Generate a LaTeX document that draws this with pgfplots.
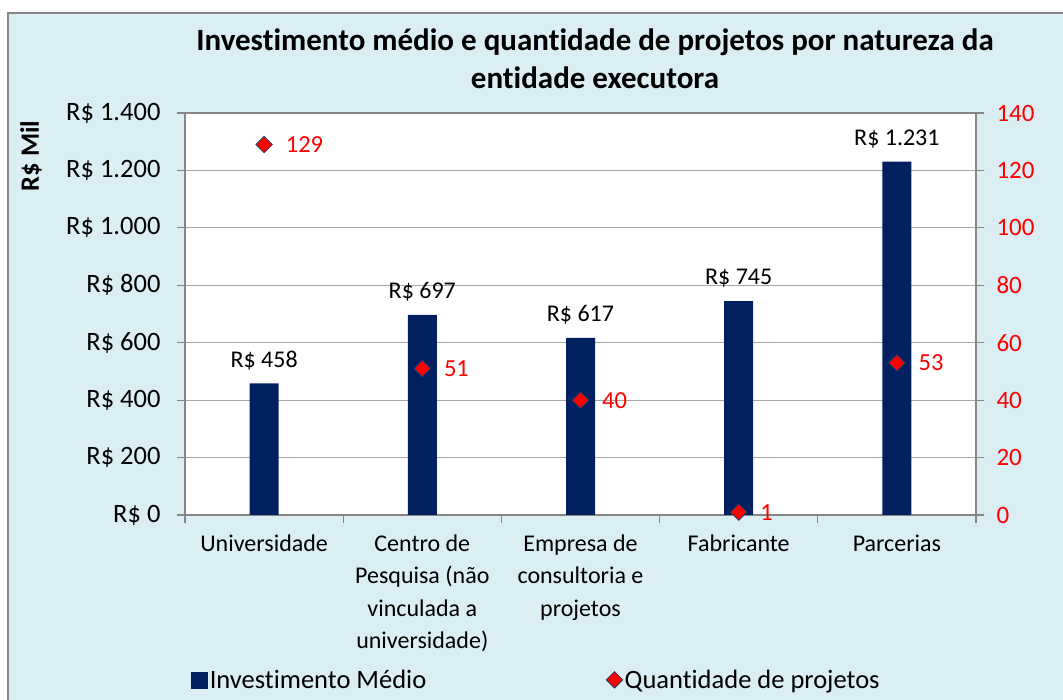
\documentclass[border=0pt]{standalone}
\usepackage{fontspec}
\setmainfont{Carlito}[Ligatures=NoCommon]
\usepackage{pgfplots}
\pgfplotsset{compat=1.18}
\definecolor{bgblue}{HTML}{DBEEF4}
\definecolor{navy}{HTML}{002060}
\definecolor{framegray}{HTML}{868686}
\definecolor{gridgray}{HTML}{A6A6A6}
\begin{document}
\begin{tikzpicture}[x=1pt,y=1pt]
\useasboundingbox (0,0) rectangle (1063,700);
\fill[bgblue] (8,0) rectangle (1063,687);
\draw[framegray, line width=1.2pt] (8,0) -- (8,687) -- (1063,687);
\node[font=\fontsize{31}{38}\selectfont\bfseries, align=center] at (595,641) {Investimento médio e quantidade de projetos por natureza da\\entidade executora};
\node[rotate=90, font=\fontsize{26.5}{30}\selectfont\bfseries] at (31,544) {R\$ Mil};
\begin{axis}[
  at={(185pt,185pt)}, anchor=south west, scale only axis,
  width=791pt, height=402pt,
  xmin=-0.5, xmax=4.5, ymin=0, ymax=1400,
  axis background/.style={fill=white},
  xtick={0,1,2,3,4},
  xticklabels={Universidade,{Centro de\\Pesquisa (não\\vinculada a\\universidade)},{Empresa de\\consultoria e\\projetos},Fabricante,Parcerias},
  minor xtick={-0.5,0.5,1.5,2.5,3.5,4.5},
  major x tick style={draw=none},
  xtick pos=bottom, ytick pos=left,
  tick align=outside,
  major tick length=8pt, minor tick length=8pt,
  tick style={framegray, line width=1.2pt},
  ytick={0,200,...,1400},
  yticklabels={R\$ 0,R\$ 200,R\$ 400,R\$ 600,R\$ 800,R\$ 1.000,R\$ 1.200,R\$ 1.400},
  ymajorgrids, grid style={gridgray, line width=1pt},
  axis line style={framegray, line width=1.2pt},
  yticklabel style={font=\fontsize{26.5}{32.5}\selectfont, xshift=-13pt},
  xticklabel style={font=\fontsize{24}{32.5}\selectfont, align=center, yshift=-8pt},
  /pgf/number format/.cd, 1000 sep={.}, assume math mode=true,
]
\addplot[ybar, bar width=29pt, fill=navy, draw=none,
  nodes near coords={R\$ \pgfmathprintnumber{\pgfplotspointmeta}},
  nodes near coords style={font=\fontsize{24}{29}\selectfont, black, anchor=south, yshift=10pt}]
  coordinates {(0,458) (1,697) (2,617) (3,745) (4,1231)};
\end{axis}
\begin{axis}[
  at={(185pt,185pt)}, anchor=south west, scale only axis,
  width=791pt, height=402pt,
  xmin=-0.5, xmax=4.5, ymin=0, ymax=140,
  hide x axis,
  axis y line*=right,
  ytick={0,20,...,140},
  tick align=outside, major tick length=8pt,
  tick style={framegray, line width=1.2pt},
  axis line style={framegray, line width=1.2pt},
  yticklabel style={font=\fontsize{25}{32}\selectfont, red, xshift=9pt},
  legend columns=2,
  legend style={draw=none, fill=none, font=\fontsize{26.5}{30}\selectfont,
    at={(0.004,-0.41)}, anchor=west,
    /tikz/every even column/.append style={column sep=178pt}},
  /pgf/number format/.cd, assume math mode=true,
]
\addlegendimage{legend image code/.code={\fill[navy] (0pt,-8pt) rectangle (16pt,8pt);}}
\addplot[only marks, mark=square*, mark size=5.8pt,
  mark options={rotate=45, fill=red, draw=navy!70!gray, line width=0.8pt},
  nodes near coords,
  nodes near coords style={font=\fontsize{24.5}{30}\selectfont, red, anchor=west, xshift=18pt}]
  coordinates {(0,129) (1,51) (2,40) (3,1) (4,53)};
\legend{Investimento Médio,Quantidade de projetos}
\end{axis}
\end{tikzpicture}
\end{document}
